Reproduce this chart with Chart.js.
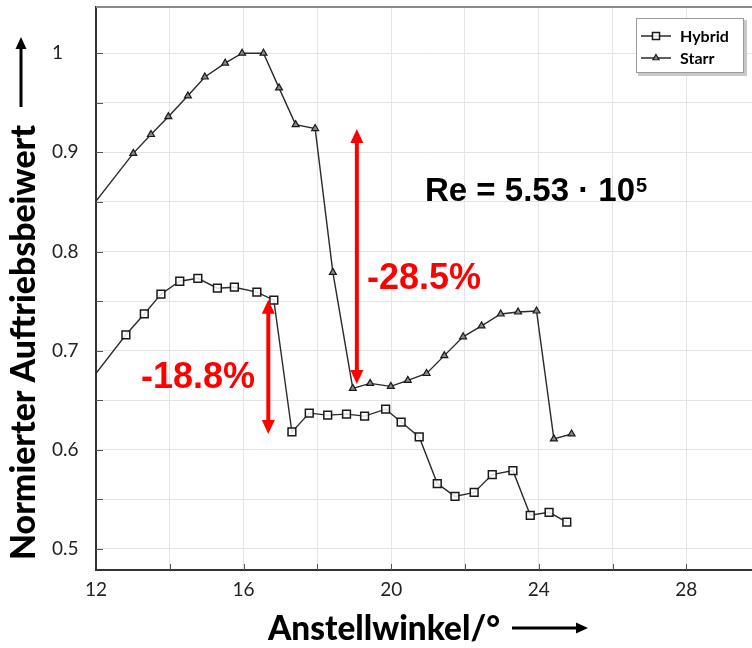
<!DOCTYPE html>
<html>
<head>
<meta charset="utf-8">
<script src="https://cdn.jsdelivr.net/npm/chart.js@4/dist/chart.umd.min.js"></script>
<style>
  html, body { margin: 0; padding: 0; background: #fff; overflow: hidden; width: 752px; height: 648px; }
  /* the source figure is cropped on the right, so the canvas runs past the window edge */
  #wrap { width: 759px; height: 648px; position: relative; }
</style>
</head>
<body>
<div id="wrap"><canvas id="chart"></canvas></div>
<script>
// angle of attack (deg) and normalised lift coefficient
const hybridAngle = [11.81, 12.81, 13.31, 13.76, 14.27, 14.76, 15.29, 15.75, 16.36, 16.82, 17.31, 17.78, 18.28, 18.79, 19.28, 19.85, 20.27, 20.76, 21.25, 21.73, 22.25, 22.74, 23.30, 23.77, 24.28, 24.76];
const hybridLift = [0.668, 0.716, 0.737, 0.757, 0.770, 0.773, 0.763, 0.764, 0.759, 0.751, 0.618, 0.637, 0.635, 0.636, 0.634, 0.641, 0.628, 0.613, 0.566, 0.553, 0.557, 0.575, 0.579, 0.534, 0.537, 0.527];

const starrAngle = [11.5, 13.01, 13.49, 13.96, 14.49, 14.95, 15.50, 15.96, 16.54, 16.96, 17.41, 17.94, 18.42, 18.96, 19.43, 19.99, 20.45, 20.96, 21.44, 21.95, 22.45, 22.97, 23.44, 23.94, 24.41, 24.89];
const starrLift = [0.827, 0.899, 0.918, 0.936, 0.957, 0.976, 0.990, 1.0, 1.0, 0.965, 0.928, 0.924, 0.779, 0.662, 0.667, 0.664, 0.670, 0.677, 0.695, 0.714, 0.725, 0.737, 0.739, 0.740, 0.611, 0.616];

const xTickLabels = [12, 16, 20, 24, 28];
const yTickLabels = [0.5, 0.6, 0.7, 0.8, 0.9, 1];

// lift drop markers (red double arrows)
const dropLabels = ['-28.5%', '-18.8%'];
const dropAngle = [19.07, 16.67];
const dropTop = [0.9235, 0.7513];
const dropBottom = [0.6665, 0.616];

const seriesNames = ['Hybrid', 'Starr'];

function toPoints(xs, ys) {
    return xs.map((x, i) => ({ x: x, y: ys[i] }));
}

function arrowHead(ctx, x, y, dx, dy, len, half) {
    // tip at (x, y), pointing along (dx, dy)
    const bx = x - dx * len, by = y - dy * len;
    ctx.beginPath();
    ctx.moveTo(x, y);
    ctx.lineTo(bx - dy * half, by + dx * half);
    ctx.lineTo(bx + dy * half, by - dx * half);
    ctx.closePath();
    ctx.fill();
}

function arrow(ctx, x1, y1, x2, y2, width, len, half, both) {
    const d = Math.hypot(x2 - x1, y2 - y1);
    const dx = (x2 - x1) / d, dy = (y2 - y1) / d;
    ctx.lineWidth = width;
    ctx.beginPath();
    ctx.moveTo(x1 + (both ? dx * (len - 1) : 0), y1 + (both ? dy * (len - 1) : 0));
    ctx.lineTo(x2 - dx * (len - 1), y2 - dy * (len - 1));
    ctx.stroke();
    arrowHead(ctx, x2, y2, dx, dy, len, half);
    if (both) arrowHead(ctx, x1, y1, -dx, -dy, len, half);
}

const overlay = {
    id: 'overlay',
    afterDraw(chart) {
        const ctx = chart.ctx;
        const xs = chart.scales.x, ys = chart.scales.y;
        const area = chart.chartArea;
        ctx.save();

        // top frame line
        ctx.strokeStyle = '#8a8a8a';
        ctx.lineWidth = 2;
        ctx.beginPath();
        ctx.moveTo(area.left, area.top);
        ctx.lineTo(area.right, area.top);
        ctx.stroke();

        // inner ticks
        ctx.strokeStyle = '#555';
        ctx.lineWidth = 1;
        for (let v = 14; v <= 29; v += 2) {
            const px = Math.round(xs.getPixelForValue(v)) + 0.5;
            ctx.beginPath();
            ctx.moveTo(px, area.bottom);
            ctx.lineTo(px, area.bottom - 6);
            ctx.stroke();
        }
        for (let v = 0.5; v <= 1.04; v += 0.05) {
            const py = Math.round(ys.getPixelForValue(v)) + 0.5;
            ctx.beginPath();
            ctx.moveTo(area.left, py);
            ctx.lineTo(area.left + 7, py);
            ctx.stroke();
        }

        // red drop arrows and labels
        ctx.strokeStyle = '#ff0000';
        ctx.fillStyle = '#ff0000';
        dropAngle.forEach((a, i) => {
            const px = xs.getPixelForValue(a);
            arrow(ctx, px, ys.getPixelForValue(dropTop[i]), px, ys.getPixelForValue(dropBottom[i]), 4, 14, 6.5, true);
        });
        ctx.font = 'bold 36px "Liberation Sans", Arial, sans-serif';
        ctx.textAlign = 'left';
        ctx.textBaseline = 'alphabetic';
        ctx.fillText(dropLabels[0], 367, 289);
        ctx.fillText(dropLabels[1], 141, 388);

        // Reynolds number
        ctx.fillStyle = '#000';
        ctx.font = 'bold 33px "Liberation Sans", Arial, sans-serif';
        const reText = 'Re = 5.53 \u00b7 10';
        ctx.fillText(reText, 425, 201);
        const rw = ctx.measureText(reText).width;
        ctx.font = 'bold 20px "Liberation Sans", Arial, sans-serif';
        ctx.fillText('5', 425 + rw + 1, 192);

        // legend
        ctx.fillStyle = '#c8c8c8';
        ctx.fillRect(638, 20, 109, 56);
        ctx.fillStyle = '#fff';
        ctx.fillRect(636, 18, 108, 55);
        ctx.strokeStyle = '#9a9a9a';
        ctx.lineWidth = 1;
        ctx.strokeRect(636.5, 18.5, 107, 54);
        const legendY = [36, 58];
        chart.data.datasets.forEach((ds, i) => {
            const y = legendY[i];
            ctx.strokeStyle = ds.borderColor;
            ctx.lineWidth = 1.5;
            ctx.beginPath();
            ctx.moveTo(641, y);
            ctx.lineTo(671, y);
            ctx.stroke();
            ctx.strokeStyle = ds.pointBorderColor;
            ctx.fillStyle = ds.pointBackgroundColor;
            ctx.lineWidth = ds.pointBorderWidth;
            Chart.helpers.drawPoint(ctx, {
                pointStyle: ds.pointStyle,
                radius: ds.pointRadius - 0.5,
                borderWidth: ds.pointBorderWidth,
                rotation: 0
            }, 656, y);
            ctx.fillStyle = '#000';
            ctx.font = 'bold 16px Lato, sans-serif';
            ctx.textBaseline = 'middle';
            ctx.fillText(ds.label, 680, y + 1);
        });
        ctx.textBaseline = 'alphabetic';

        // axis titles with arrows
        ctx.fillStyle = '#000';
        ctx.strokeStyle = '#000';
        ctx.font = '900 35px Lato, sans-serif';
        const yTitle = 'Normierter Auftriebsbeiwert';
        ctx.save();
        ctx.translate(35, 560);
        ctx.rotate(-Math.PI / 2);
        ctx.scale(435 / ctx.measureText(yTitle).width, 1);
        ctx.fillText(yTitle, 0, 0);
        ctx.restore();
        arrow(ctx, 21, 107, 21, 37, 3, 12, 5.5, false);

        const xTitle = 'Anstellwinkel/\u00b0';
        ctx.save();
        ctx.translate(268, 640);
        ctx.scale(232 / ctx.measureText(xTitle).width, 1);
        ctx.fillText(xTitle, 0, 0);
        ctx.restore();
        arrow(ctx, 512, 628, 588, 628, 3, 12, 5.5, false);

        ctx.restore();
    }
};

const tickFont = { family: 'Lato, sans-serif', size: 19 };

new Chart(document.getElementById('chart').getContext('2d'), {
    type: 'line',
    data: {
        datasets: [{
            label: seriesNames[0],
            data: toPoints(hybridAngle, hybridLift),
            borderColor: '#2a2a2a',
            borderWidth: 1.4,
            pointStyle: 'rect',
            pointRadius: 5.5,
            pointBorderColor: '#1a1a1a',
            pointBackgroundColor: 'rgba(255,255,255,0.85)',
            pointBorderWidth: 1.5,
            tension: 0,
            fill: false
        }, {
            label: seriesNames[1],
            data: toPoints(starrAngle, starrLift),
            borderColor: '#2a2a2a',
            borderWidth: 1.4,
            pointStyle: 'triangle',
            pointRadius: 4,
            pointBorderColor: '#1a1a1a',
            pointBackgroundColor: '#8a8a8a',
            pointBorderWidth: 1.2,
            tension: 0,
            fill: false
        }]
    },
    options: {
        responsive: true,
        maintainAspectRatio: false,
        animation: false,
        layout: { padding: { left: 52, top: 7, right: 0, bottom: 0 } },
        plugins: {
            legend: { display: false },
            tooltip: { enabled: false }
        },
        scales: {
            x: {
                type: 'linear',
                min: 12,
                max: 29.78,
                afterFit: (s) => { s.height = 78; s.paddingLeft = 0; s.paddingRight = 0; },
                ticks: {
                    stepSize: 2,
                    autoSkip: false,
                    includeBounds: false,
                    maxRotation: 0,
                    padding: 8,
                    color: '#222',
                    font: tickFont,
                    callback: (v) => xTickLabels.some(t => Math.abs(t - v) < 1e-6) ? String(v) : ''
                },
                grid: { color: '#e4e4e4', drawTicks: false },
                border: { color: '#333', width: 2 }
            },
            y: {
                min: 0.4788,
                max: 1.0466,
                afterFit: (s) => { s.width = 44; s.paddingTop = 0; s.paddingBottom = 0; },
                ticks: {
                    stepSize: 0.05,
                    autoSkip: false,
                    includeBounds: false,
                    crossAlign: 'far',
                    color: '#222',
                    font: tickFont,
                    callback: (v) => {
                        const t = yTickLabels.find(l => Math.abs(l - v) < 1e-6);
                        return t === undefined ? '' : String(t);
                    }
                },
                grid: { color: '#e4e4e4', drawTicks: false },
                border: { color: '#333', width: 2 }
            }
        }
    },
    plugins: [overlay]
});
</script>
</body>
</html>
